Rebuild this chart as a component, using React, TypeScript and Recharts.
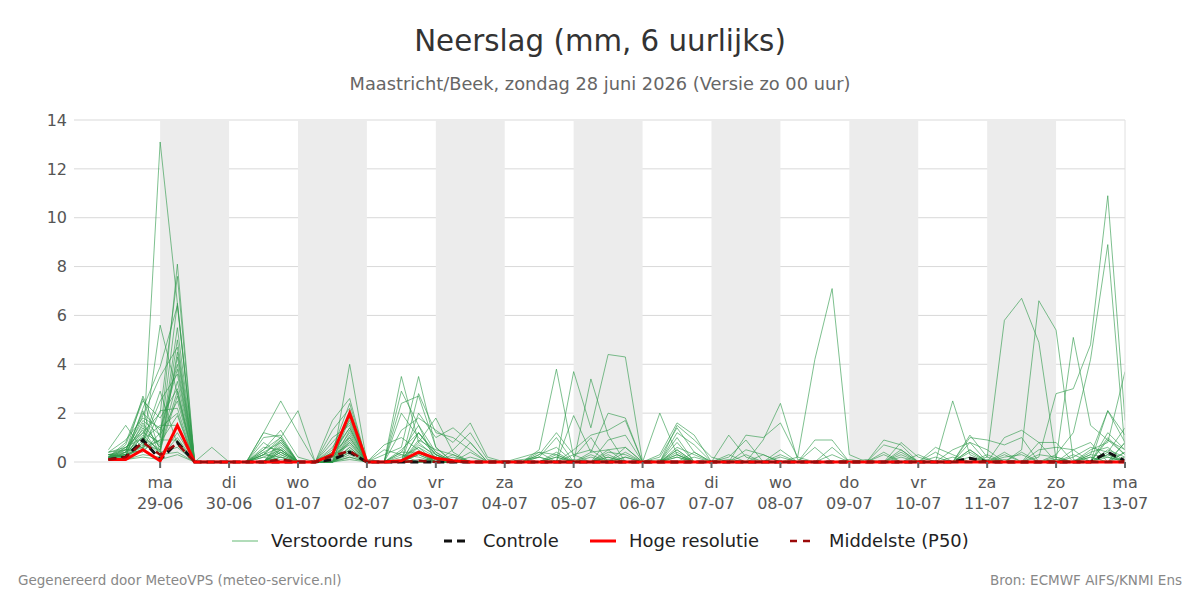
import React from 'react';
import { ComposedChart, Line, XAxis, YAxis, CartesianGrid, ReferenceArea } from 'recharts';

const FONT = '"DejaVu Sans", Verdana, sans-serif';

// Day boundary ticks (6-hour step index; step 1 = 28-06 06:00)
const dayTicks = [4, 8, 12, 16, 20, 24, 28, 32, 36, 40, 44, 48, 52, 56, 60];
const dayNames = ['ma', 'di', 'wo', 'do', 'vr', 'za', 'zo', 'ma', 'di', 'wo', 'do', 'vr', 'za', 'zo', 'ma'];
const dayDates = ['29-06', '30-06', '01-07', '02-07', '03-07', '04-07', '05-07', '06-07', '07-07', '08-07', '09-07', '10-07', '11-07', '12-07', '13-07'];
const shadedDays = [[4, 8], [12, 16], [20, 24], [28, 32], [36, 40], [44, 48], [52, 56]];
const yTicks = [0, 2, 4, 6, 8, 10, 12, 14];

// Perturbed ensemble members (mm per 6 h), steps 1..60
const m01 = [.2,.3,.5,13.1,6.5,0,0,0,0,.3, .9,0,0,.2,1.2,0,0,.5,1.2,.3, 0,0,0,0,0,0,.3,0,0,.5, .6,0,0,.5,0,0,0,.5,.3,0, 0,0,0,0,0,.3,0,0,0,0, .5,0,.4,0,0,0,0,0,1.2,.5];
const m02 = [.3,.5,.6,5.6,2.8,0,0,0,0,1.2, 2.5,1.2,0,0,4.0,0,0,0,.8,1.8, .4,0,0,0,0,.3,1.2,.3,0,0, 0,0,.2,1.4,.4,0,0,0,0,.5, 0,0,0,0,0,0,.5,0,0,.5, .8,0,0,0,.5,.6,.5,0,0,.8];
const m03 = [.1,.4,2.7,1.0,8.1,0,0,0,0,.5, 1.3,.2,0,1.7,2.6,0,0,3.5,.8,.2, 0,0,0,0,0,.5,3.8,.2,1.0,0, 0,0,0,1.0,0,0,.3,0,0,0, 0,.6,0,0,0,0,0,0,.4,0, 0,.2,5.8,6.7,4.9,.1,0,0,.9,.3];
const m04 = [.2,.3,1.2,2.0,7.6,0,0,0,0,.3, 1.0,2.1,0,0,.8,0,.3,.6,3.5,.6, 0,0,0,0,0,0,0,3.7,1.4,4.4, 4.3,0,0,0,0,0,1.1,.2,0,0, 0,0,.6,0,0,0,0,0,0,0, 1.1,.2,0,0,0,0,.5,.8,0,.4];
const m05 = [.5,1.5,.5,.9,6.5,0,0,0,0,1.0, 1.1,0,0,.5,2.4,0,0,2.9,1.5,.4, 0,0,0,0,.2,.4,0,0,3.4,1.1, 0,0,.3,1.6,1.1,0,0,0,0,0, 0,.9,.9,0,0,.9,.7,0,0,0, 0,0,1.0,1.3,.8,0,0,0,2.1,1.1];
const m06 = [.1,.2,2.2,3.9,6.4,0,0,0,0,0, .8,0,0,1.0,1.5,0,0,0,2.8,1.2, 1.0,.5,0,0,0,0,0,1.9,.4,2.0, 1.8,0,0,0,0,0,0,1.1,1.0,1.6, .2,0,0,0,0,0,0,.3,0,2.5, .3,0,0,0,.2,2.8,3.0,4.8,10.9,1.7];
const m07 = [.3,.2,1.4,.6,5.5,0,0,0,0,.6, .5,0,0,0,1.0,0,0,2.4,2.7,.6, 0,0,0,0,0,.3,.6,0,0,.9, 1.1,0,0,1.2,.7,0,0,0,.9,2.4, .1,0,0,0,0,0,.8,.2,0,0, 1.0,.9,.7,1.0,0,.3,1.2,4.2,8.9,.5];
const m08 = [.2,.8,2.6,.4,5.0,0,0,0,0,0, .4,0,0,1.3,2.2,0,0,0,2.0,1.0, 1.4,.8,0,0,0,0,0,.5,1.1,1.3, 1.7,0,2.0,.3,0,0,0,0,0,0, .2,4.2,7.1,.3,0,0,0,0,.6,.3, 0,0,0,.5,6.6,5.4,.1,0,0,.8];
const m09 = [.1,.3,1.9,3.5,4.7,0,0,0,0,1.2, 1.0,0,0,0,1.8,0,0,1.3,1.8,1.3, .8,1.6,.2,0,0,.2,1.0,0,0,0, .6,0,0,1.5,.9,.2,0,0,0,0, 0,0,0,0,0,.7,.5,0,0,0, .8,.5,0,0,0,.1,5.1,1.5,.9,.5];
const m10 = [.4,.6,1.0,.3,4.5,0,0,0,0,0, .6,0,0,.3,1.4,0,.7,1.0,.5,0, .5,1.2,.1,0,0,0,0,0,.4,.5, 0,0,0,.5,0,0,.2,.9,0,0, 0,0,0,0,.1,0,0,0,0,0, 0,0,.2,.3,0,0,0,.5,.8,3.7];
const m11 = [.2,.5,2.0,1.3,4.0,0,0,0,0,.4, .8,0,0,0,2.0,.1,0,0,1.2,.4, 0,0,0,0,0,0,.4,0,0,.3, 0,0,0,0,.4,0,0,0,0,.3, 0,0,0,0,0,0,.3,0,0,0, .5,0,0,0,0,0,0,.3,2.1,.8];
const m12 = [.1,.1,.8,2.5,3.6,0,0,0,0,0, .9,0,0,.8,1.6,0,0,.4,1.5,0, 0,.8,0,0,0,.4,.3,0,0,0, .4,0,0,.8,0,0,0,.3,0,0, 0,0,.3,0,0,.4,0,0,0,0, 0,.3,0,0,.8,.8,0,0,1.0,.3];
const m13 = [.3,.4,1.5,.7,3.3,0,0,0,0,.8, .3,0,0,0,.6,0,0,2.0,1.0,.3, 0,0,0,0,0,0,0,.3,.5,0, 0,0,0,.4,0,0,0,0,.3,0, 0,0,0,0,0,0,.4,0,0,0, 0,0,0,.4,0,0,0,.4,.6,0];
const m14 = [.2,.7,2.5,1.8,3.0,0,0,0,0,0, .7,0,0,.6,1.7,0,0,0,.9,.5, .3,0,0,0,0,0,0,0,0,.4, .3,0,0,.6,.3,0,0,0,0,.2, 0,0,0,0,0,0,0,0,0,0, .4,0,0,0,0,0,.2,.6,.4,1.4];
const m15 = [.1,.2,.7,.5,2.7,0,0,0,0,.2, .5,0,0,0,.4,0,0,.2,.6,.2, 0,.4,0,0,0,0,0,0,.3,0, 0,0,0,0,0,0,.1,0,0,0, 0,0,0,0,0,0,0,0,0,0, 0,0,.3,0,0,0,0,0,.3,0];
const m16 = [.4,.5,1.7,1.1,2.5,0,0,0,0,.5, 1.0,0,0,.4,1.0,0,0,0,.4,0, .3,0,0,0,0,.2,0,0,0,0, .2,0,0,.3,0,0,0,0,0,0, 0,0,0,0,0,0,0,0,.2,0, 0,0,0,0,0,.2,0,0,.5,.2];
const m17 = [.2,.3,.5,2.1,2.2,0,.6,0,0,0, .2,0,0,0,.3,0,0,0,0,.2, 0,0,0,0,0,0,.2,0,0,0, 0,0,0,0,0,0,0,0,0,0, 0,0,0,.1,0,0,0,0,0,0, 0,.1,0,0,0,0,0,.2,0,0];
const m18 = [.1,.6,1.2,.8,1.9,0,0,0,0,0, .4,0,0,0,.9,0,.5,.3,.2,0, 0,0,0,0,0,0,0,0,0,.2, 0,0,0,0,.2,0,0,0,0,0, 0,0,0,0,0,0,0,0,0,0, 0,0,0,0,0,0,0,.3,.2,0];
const m19 = [.3,.2,.9,1.5,1.5,0,0,0,0,.3, .6,0,0,.3,.7,0,0,0,1.2,.3, 0,0,0,0,.1,.2,0,0,0,.2, 0,0,0,.2,0,0,0,0,0,0, 0,0,0,0,0,0,0,0,0,0, 0,0,0,0,.3,.2,0,0,0,.4];
const m20 = [.2,.4,2.1,.2,1.2,0,0,0,0,0, .3,0,0,0,.5,0,0,.3,0,0, .2,0,0,0,0,0,0,0,.2,0, 0,0,0,0,0,0,0,0,0,0, 0,0,0,0,0,0,.2,0,0,0, 0,0,0,0,0,0,0,0,.3,0];
const m21 = [.1,.3,.6,.9,.9,0,0,0,0,.2, 0,0,0,0,.4,0,0,0,.3,0, 0,.2,0,0,0,0,0,0,0,0, 0,0,.1,0,0,0,0,0,0,0, 0,0,0,0,0,0,0,0,0,0, 0,0,.1,0,0,0,0,0,0,0];
const m22 = [.2,.2,1.1,.4,.6,0,0,0,0,0, .2,0,0,.2,.8,0,0,.1,0,0, 0,0,0,0,0,0,0,.1,0,0, 0,0,0,0,0,0,0,0,0,0, 0,0,0,0,0,0,0,0,0,0, 0,0,0,0,0,0,0,0,0,0];
const m23 = [.1,.5,.4,1.2,3.8,0,0,0,0,0, .5,0,0,0,1.3,0,0,0,.6,0, 0,0,0,0,0,0,0,0,0,0, .2,0,0,0,0,0,0,0,0,0, 0,0,0,0,0,0,0,0,0,0, .2,0,0,0,0,0,0,.2,0,0];
const m24 = [.3,.3,1.6,.6,2.9,0,0,0,0,.4, 0,0,0,0,1.1,0,0,0,0,.2, 0,0,0,0,0,0,0,0,0,0, 0,0,0,.2,0,0,0,0,0,0, 0,0,0,0,0,0,0,0,0,0, 0,0,0,0,0,0,.3,0,0,0];
const m25 = [.2,.1,.3,.2,1.0,0,0,0,0,0, .1,0,0,0,.2,0,0,0,.1,0, 0,0,0,0,0,0,0,0,0,0, 0,0,0,0,0,0,0,0,0,0, 0,0,0,0,0,0,0,0,0,0, 0,0,0,0,0,0,0,0,0,0];
const m26 = [.1,.4,1.0,.5,4.3,0,0,0,0,.3, .2,0,0,0,.6,0,0,.4,.4,0, 0,0,0,0,0,0,0,0,0,.1, 0,0,0,0,0,0,0,0,0,0, 0,0,0,0,0,0,0,0,0,0, 0,0,0,0,0,.1,0,0,.2,0];
const m27 = [.3,.2,.8,2.9,.7,0,0,0,0,0, .4,0,0,0,.5,0,0,0,.3,0, 0,0,0,0,0,0,0,0,0,0, 0,0,0,0,0,0,0,0,0,0, 0,0,0,0,0,0,0,0,0,.2, 0,0,0,0,0,0,0,0,0,.2];
const m28 = [.2,.6,1.3,.3,.4,0,0,0,0,0, 0,0,0,0,.2,0,0,0,0,.1, 0,0,0,0,0,0,0,0,0,0, 0,0,0,0,0,0,0,0,0,0, 0,0,0,0,0,0,0,0,0,0, 0,0,0,0,0,0,0,0,0,0];
const m29 = [.1,.1,.2,.1,.3,0,0,0,0,0, 0,0,0,0,.1,0,0,0,0,0, 0,0,0,0,0,0,0,0,0,0, 0,0,0,0,0,0,0,0,0,0, 0,0,0,0,0,0,0,0,0,0, 0,0,0,0,0,0,0,0,0,0];
const m30 = [.4,.9,1.8,1.4,2.0,0,0,0,0,0, .5,0,0,.4,1.4,0,0,0,.7,.3, 0,0,0,0,0,0,.2,0,0,0, 0,0,0,.3,0,0,0,0,0,0, 0,0,0,0,0,0,0,0,0,0, 0,0,0,0,0,0,0,0,.4,0];

const controlRun = [.1,.2,.9,.1,.8,0,0,0,0,0, 0,0,0,.1,.4,0,0,0,0,0, 0,0,0,0,0,0,0,0,0,0, 0,0,0,0,0,0,0,0,0,0, 0,0,0,0,0,0,0,0,0,0, .15,0,0,0,0,0,0,0,.4,.05];
const hresRun = [.1,.1,.5,.05,1.5,0,0,0,0,0, 0,0,0,.3,2.0,0,0,.05,.4,.15, .05,0,0,0,0,0,0,0,0,0, 0,0,0,0,0,0,0,0,0,0, 0,0,0,0,0,0,0,0,0,0, 0,0,0,0,0,0,0,0,0,0];
const p50Run = [.1,.2,.8,.3,.75,0,0,0,0,0, .1,0,0,.25,.45,0,0,0,.05,0, 0,0,0,0,0,0,0,0,0,0, 0,0,0,0,0,0,0,0,0,0, 0,0,0,0,0,0,0,0,0,0, 0,0,0,0,0,0,0,0,0,0];

const members = [m01, m02, m03, m04, m05, m06, m07, m08, m09, m10, m11, m12, m13, m14, m15, m16, m17, m18, m19, m20, m21, m22, m23, m24, m25, m26, m27, m28, m29, m30];

const data = hresRun.map((v, i) => {
  const row: Record<string, number> = { t: i + 1, ctrl: controlRun[i], hres: v, p50: p50Run[i] };
  members.forEach((m, k) => {
    row['m' + k] = m[i];
  });
  return row;
});

const DayTick = (props: any) => {
  const { x, y, payload } = props;
  const idx = dayTicks.indexOf(payload.value);
  return (
    <g>
      <text x={x} y={y} textAnchor="middle" fill="#555" fontSize={16} fontFamily={FONT}>
        <tspan x={x} dy={18}>{dayNames[idx]}</tspan>
        <tspan x={x} dy={21}>{dayDates[idx]}</tspan>
      </text>
    </g>
  );
};

const legendItems = [
  { sx: 232, tx: 271, w: 26, label: 'Verstoorde runs', stroke: '#7cc48a', sw: 1.2, dash: undefined as string | undefined },
  { sx: 444, tx: 483, w: 26, label: 'Controle', stroke: '#111', sw: 3, dash: '8 5' },
  { sx: 590, tx: 629, w: 26, label: 'Hoge resolutie', stroke: '#ff0000', sw: 3, dash: undefined },
  { sx: 790, tx: 829, w: 22, label: 'Middelste (P50)', stroke: '#9b0a0a', sw: 2.5, dash: '7 6' },
];

export default function App() {
  return (
    <div style={{ position: 'absolute', left: 0, top: 0, width: 1200, height: 600, background: '#fff', fontFamily: FONT }}>
      <div style={{ position: 'absolute', left: 0, top: 20, width: 1200, height: 42, lineHeight: '42px', textAlign: 'center', fontSize: 29.3, color: '#333' }}>
        Neerslag (mm, 6 uurlijks)
      </div>
      <div style={{ position: 'absolute', left: 0, top: 72, width: 1200, height: 24, lineHeight: '24px', textAlign: 'center', fontSize: 17.8, color: '#666' }}>
        Maastricht/Beek, zondag 28 juni 2026 (Versie zo 00 uur)
      </div>
      <div style={{ position: 'absolute', left: 0, top: 0 }}>
        <ComposedChart width={1200} height={600} data={data} margin={{ top: 120, right: 0, bottom: 78, left: 0 }}>
          {shadedDays.map(([a, b]) => (
            <ReferenceArea key={'s' + a} x1={a} x2={b} yAxisId="left" fill="#ececec" fillOpacity={1} stroke="none" ifOverflow="visible" />
          ))}
          <CartesianGrid yAxisId="left" vertical={false} stroke="#d9d9d9" strokeWidth={1} />
          <XAxis
            dataKey="t"
            type="number"
            domain={[-1, 60]}
            ticks={dayTicks}
            interval={0}
            height={60}
            tickSize={6}
            tickMargin={2}
            tick={<DayTick />}
            tickLine={{ stroke: '#666', strokeWidth: 2 }}
            axisLine={false}
            allowDataOverflow
          />
          <YAxis
            yAxisId="left"
            domain={[0, 14]}
            ticks={yTicks}
            width={74}
            tickSize={0}
            tickMargin={7}
            axisLine={false}
            tickLine={false}
            tick={{ fill: '#555', fontSize: 16, fontFamily: FONT }}
          />
          <YAxis
            yAxisId="right"
            orientation="right"
            domain={[0, 14]}
            ticks={yTicks}
            width={75}
            tickSize={0}
            tickMargin={9}
            axisLine={{ stroke: '#e0e0e0' }}
            tickLine={false}
            tick={{ fill: '#555', fontSize: 16, fontFamily: FONT, textAnchor: 'start' }}
          />
          {members.map((_, k) => (
            <Line
              key={'m' + k}
              yAxisId="left"
              dataKey={'m' + k}
              type="linear"
              stroke="#2e9a4a"
              strokeOpacity={0.62}
              strokeWidth={1}
              dot={false}
              activeDot={false}
              isAnimationActive={false}
            />
          ))}
          <Line yAxisId="left" dataKey="ctrl" type="linear" stroke="#111" strokeWidth={3} strokeDasharray="8 5" dot={false} activeDot={false} isAnimationActive={false} />
          <Line yAxisId="left" dataKey="hres" type="linear" stroke="#ff0000" strokeWidth={3} dot={false} activeDot={false} isAnimationActive={false} />
          <Line yAxisId="left" dataKey="p50" type="linear" stroke="#9b0a0a" strokeWidth={2.5} strokeDasharray="8 6" dot={false} activeDot={false} isAnimationActive={false} />
        </ComposedChart>
      </div>
      {legendItems.map((it) => (
        <React.Fragment key={it.label}>
          <svg style={{ position: 'absolute', left: it.sx, top: 536 }} width={it.w} height={10}>
            <line x1={0} y1={5} x2={it.w} y2={5} stroke={it.stroke} strokeWidth={it.sw} strokeDasharray={it.dash} />
          </svg>
          <div style={{ position: 'absolute', left: it.tx, top: 529, height: 24, lineHeight: '24px', fontSize: 17.9, color: '#222', whiteSpace: 'nowrap' }}>
            {it.label}
          </div>
        </React.Fragment>
      ))}
      <div style={{ position: 'absolute', left: 18, top: 570, height: 20, lineHeight: '20px', fontSize: 13.5, color: '#888' }}>
        Gegenereerd door MeteoVPS (meteo-service.nl)
      </div>
      <div style={{ position: 'absolute', right: 18, top: 570, height: 20, lineHeight: '20px', fontSize: 13.5, color: '#888' }}>
        Bron: ECMWF AIFS/KNMI Ens
      </div>
    </div>
  );
}
